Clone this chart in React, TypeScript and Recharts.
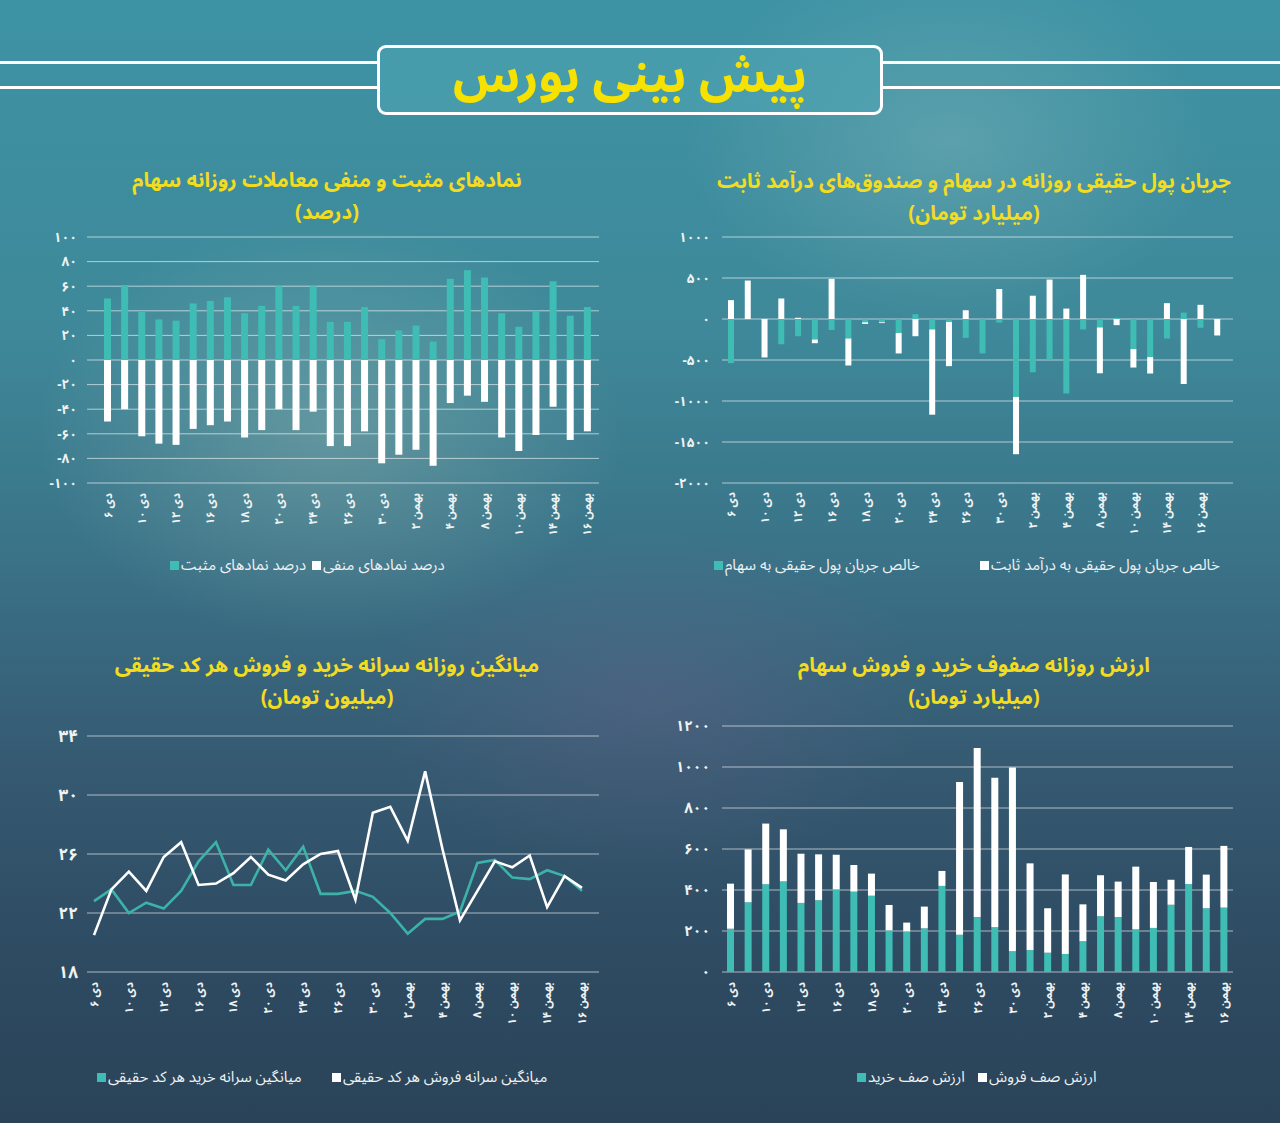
import React from 'react';
import { BarChart, Bar, LineChart, Line, XAxis, YAxis, CartesianGrid } from 'recharts';

const FONT = "'Noto Sans Arabic', 'Vazirmatn', 'DejaVu Sans', sans-serif";
const TEAL = '#3fbdb5';
const TEAL_LINE = '#3cb2a9';
const WHITE = '#ffffff';
const GRID = 'rgba(255,255,255,0.6)';
const LABEL = '#eef3f4';
const YELLOW = '#f3dc1e';

// categories (trading days)
const dates = [
  '۶ دی', '۹ دی', '۱۰ دی', '۱۱ دی', '۱۲ دی', '۱۳ دی', '۱۶ دی', '۱۷ دی', '۱۸ دی', '۱۹ دی',
  '۲۰ دی', '۲۳ دی', '۲۴ دی', '۲۵ دی', '۲۶ دی', '۲۷ دی', '۳۰ دی', '۱ بهمن', '۲ بهمن', '۳ بهمن',
  '۴ بهمن', '۷ بهمن', '۸ بهمن', '۹ بهمن', '۱۰ بهمن', '۱۱ بهمن', '۱۴ بهمن', '۱۵ بهمن', '۱۶ بهمن',
];
const flowDates = [...dates, '۱۷ بهمن'];

// chart 1: percent of positive / negative symbols
const positivePct = [50, 61, 39, 33, 32, 46, 48, 51, 38, 44, 60, 44, 60, 31, 31, 43, 17, 24, 28, 15, 66, 73, 67, 38, 27, 40, 64, 36, 43];
const negativePct = [-50, -40, -62, -68, -69, -56, -53, -50, -63, -57, -40, -57, -42, -70, -70, -58, -84, -77, -73, -86, -35, -29, -34, -63, -74, -61, -38, -65, -58];
const pctTicks = [-100, -80, -60, -40, -20, 0, 20, 40, 60, 80, 100];

// chart 2: net real money flow (billion toman)
const flowStock = [-538, 0, 0, -308, -210, -250, -135, -238, -40, -40, -170, 58, -127, -37, -230, -420, -45, -950, -650, -497, -908, -127, -103, 15, -366, -464, -238, 78, -107, 0];
const flowFixed = [230, 469, -469, 250, 15, -45, 489, -329, -20, -10, -250, -210, -1040, -538, 107, 0, 366, -699, 284, 481, 127, 538, -559, -75, -226, -201, 193, -793, 173, -201];
const flowTicks = [-2000, -1500, -1000, -500, 0, 500, 1000];

// chart 3: per-capita buy / sell (million toman)
const buyAvg = [22.8, 23.6, 22.0, 22.7, 22.3, 23.5, 25.5, 26.8, 23.9, 23.9, 26.3, 24.9, 26.5, 23.3, 23.3, 23.5, 23.1, 22.0, 20.6, 21.6, 21.6, 22.1, 25.4, 25.6, 24.4, 24.3, 24.9, 24.5, 23.5];
const sellAvg = [20.5, 23.6, 24.8, 23.5, 25.8, 26.8, 23.9, 24.0, 24.7, 25.8, 24.6, 24.2, 25.3, 26.0, 26.2, 22.9, 28.8, 29.2, 26.9, 31.6, 26.3, 21.5, 23.5, 25.5, 25.1, 25.9, 22.4, 24.5, 23.7];
const avgTicks = [18, 22, 26, 30, 34];

// chart 4: buy / sell queue value (billion toman)
const buyQueue = [211, 340, 428, 442, 337, 350, 403, 392, 372, 203, 198, 213, 420, 182, 268, 218, 101, 107, 94, 88, 150, 272, 268, 208, 215, 328, 429, 311, 314];
const sellQueue = [220, 258, 296, 254, 240, 224, 169, 130, 108, 124, 43, 106, 73, 745, 825, 730, 897, 423, 217, 388, 180, 200, 173, 306, 224, 122, 181, 164, 301];
const queueTicks = [0, 200, 400, 600, 800, 1000, 1200];

const symbolsData = dates.map((d, i) => ({ date: d, pos: positivePct[i], neg: negativePct[i] }));
const flowData = flowDates.map((d, i) => ({ date: d, stock: flowStock[i], fixed: flowFixed[i] }));
const avgData = dates.map((d, i) => ({ date: d, buy: buyAvg[i], sell: sellAvg[i] }));
const queueData = dates.map((d, i) => ({ date: d, buy: buyQueue[i], sell: sellQueue[i] }));

const fa = (v: any) => String(v).replace(/\d/g, (d) => '۰۱۲۳۴۵۶۷۸۹'[+d]);

const XTick = (props: any) => {
  const { x, y, payload } = props;
  return (
    <g transform={`translate(${x},${y})`}>
      <text transform="rotate(-90)" textAnchor="end" dominantBaseline="central" fill={LABEL} fontSize={11.5} fontFamily={FONT} fontWeight="bold">
        {payload.value}
      </text>
    </g>
  );
};

const yTick = (size: number) => ({ fill: LABEL, fontSize: size, fontWeight: 'bold', fontFamily: FONT });

const TitleLine = ({ cx, cy, text }: { cx: number; cy: number; text: string }) => (
  <div style={{ position: 'absolute', left: cx - 320, width: 640, top: cy - 12, height: 24, textAlign: 'center', direction: 'rtl', color: YELLOW, fontFamily: FONT, fontWeight: 'bold', fontSize: 20.5, lineHeight: '24px', whiteSpace: 'nowrap' }}>
    {text}
  </div>
);

const LegendItem = ({ left, top, color, text }: { left: number; top: number; color: string; text: string }) => (
  <div style={{ position: 'absolute', left, top, height: 18, display: 'flex', alignItems: 'center', fontFamily: FONT, fontSize: 15, color: '#eef2f3', whiteSpace: 'nowrap' }}>
    <span style={{ display: 'inline-block', width: 9, height: 9, background: color, marginRight: 2 }} />
    <span style={{ direction: 'rtl' }}>{text}</span>
  </div>
);

export default function App() {
  return (
    <div
      style={{
        position: 'absolute', left: 0, top: 0, width: 1280, height: 1123, overflow: 'hidden',
        background:
          'radial-gradient(ellipse 420px 300px at 330px 430px, rgba(170,195,185,0.35), rgba(170,195,185,0) 70%),' +
          'radial-gradient(ellipse 380px 260px at 950px 140px, rgba(170,205,205,0.28), rgba(170,205,205,0) 70%),' +
          'radial-gradient(ellipse 400px 250px at 650px 700px, rgba(110,100,140,0.35), rgba(110,100,140,0) 70%),' +
          'linear-gradient(180deg, #3d93a4 0%, #3e8899 30%, #3a7287 50%, #355a72 68%, #2e4b62 85%, #2a4358 100%)',
      }}
    >
      {/* header */}
      <div style={{ position: 'absolute', left: 0, width: 379, top: 61, height: 3, background: '#fff' }} />
      <div style={{ position: 'absolute', left: 0, width: 379, top: 86, height: 3, background: '#fff' }} />
      <div style={{ position: 'absolute', left: 881, width: 399, top: 61, height: 3, background: '#fff' }} />
      <div style={{ position: 'absolute', left: 881, width: 399, top: 86, height: 3, background: '#fff' }} />
      <div style={{ position: 'absolute', left: 377, top: 45, width: 500, height: 64, border: '3px solid #fff', borderRadius: 9, background: 'rgba(80,165,180,0.55)', display: 'flex', alignItems: 'center', justifyContent: 'center' }}>
        <span style={{ direction: 'rtl', color: '#f7e100', fontFamily: FONT, fontWeight: 'bold', fontSize: 49, lineHeight: '62px', marginTop: -6 }}>پیش بینی بورس</span>
      </div>

      <TitleLine cx={327} cy={181} text="نمادهای مثبت و منفی معاملات روزانه سهام" />
      <TitleLine cx={327} cy={213} text="(درصد)" />
      <TitleLine cx={974} cy={182} text="جریان پول حقیقی روزانه در سهام و صندوق‌های درآمد ثابت" />
      <TitleLine cx={974} cy={214} text="(میلیارد تومان)" />
      <TitleLine cx={327} cy={666} text="میانگین روزانه سرانه خرید و فروش هر کد حقیقی" />
      <TitleLine cx={327} cy={698} text="(میلیون تومان)" />
      <TitleLine cx={974} cy={666} text="ارزش روزانه صفوف خرید و فروش سهام" />
      <TitleLine cx={974} cy={698} text="(میلیارد تومان)" />

      {/* chart 1 */}
      <div style={{ position: 'absolute', left: 30, top: 215 }}>
        <BarChart width={580} height={330} data={symbolsData} stackOffset="sign" margin={{ top: 22, right: 11, left: 0, bottom: 7 }} barSize={7}>
          <CartesianGrid vertical={false} stroke={GRID} />
          <XAxis dataKey="date" interval={1} tickLine={false} axisLine={false} tick={<XTick />} height={55} padding={{ left: 12, right: 3 }} tickSize={6} tickMargin={4} />
          <YAxis domain={[-100, 100]} ticks={pctTicks} width={57} tickLine={false} axisLine={false} tick={yTick(13.5)} tickFormatter={fa} tickSize={6} tickMargin={4} />
          <Bar dataKey="pos" stackId="s" fill={TEAL} isAnimationActive={false} />
          <Bar dataKey="neg" stackId="s" fill={WHITE} isAnimationActive={false} />
        </BarChart>
      </div>
      <LegendItem left={170} top={556} color={TEAL} text="درصد نمادهای مثبت" />
      <LegendItem left={312} top={556} color={WHITE} text="درصد نمادهای منفی" />

      {/* chart 2 */}
      <div style={{ position: 'absolute', left: 665, top: 215 }}>
        <BarChart width={580} height={330} data={flowData} stackOffset="sign" margin={{ top: 22, right: 12, left: 0, bottom: 7 }} barSize={6}>
          <CartesianGrid vertical={false} stroke={GRID} />
          <XAxis dataKey="date" interval={1} tickLine={false} axisLine={false} tick={<XTick />} height={55} padding={{ left: 1, right: 7 }} tickSize={6} tickMargin={3} />
          <YAxis domain={[-2000, 1000]} ticks={flowTicks} width={57} tickLine={false} axisLine={false} tick={yTick(13.5)} tickFormatter={fa} tickSize={6} tickMargin={6} />
          <Bar dataKey="stock" stackId="s" fill={TEAL} isAnimationActive={false} />
          <Bar dataKey="fixed" stackId="s" fill={WHITE} isAnimationActive={false} />
        </BarChart>
      </div>
      <LegendItem left={714} top={556} color={TEAL} text="خالص جریان پول حقیقی به سهام" />
      <LegendItem left={980} top={556} color={WHITE} text="خالص جریان پول حقیقی به درآمد ثابت" />

      {/* chart 3 */}
      <div style={{ position: 'absolute', left: 30, top: 710 }}>
        <LineChart width={580} height={330} data={avgData} margin={{ top: 26, right: 11, left: 0, bottom: 13 }}>
          <CartesianGrid vertical={false} stroke={GRID} />
          <XAxis dataKey="date" scale="point" interval={1} tickLine={false} axisLine={false} tick={<XTick />} height={55} padding={{ left: 7, right: 17 }} tickSize={6} tickMargin={4} />
          <YAxis domain={[18, 34]} ticks={avgTicks} width={57} tickLine={false} axisLine={false} tick={yTick(17)} tickFormatter={fa} tickSize={6} tickMargin={3} />
          <Line dataKey="buy" stroke={TEAL_LINE} strokeWidth={2.6} dot={false} isAnimationActive={false} />
          <Line dataKey="sell" stroke={WHITE} strokeWidth={2.6} dot={false} isAnimationActive={false} />
        </LineChart>
      </div>
      <LegendItem left={97} top={1068} color={TEAL} text="میانگین سرانه خرید هر کد حقیقی" />
      <LegendItem left={332} top={1068} color={WHITE} text="میانگین سرانه فروش هر کد حقیقی" />

      {/* chart 4 */}
      <div style={{ position: 'absolute', left: 665, top: 700 }}>
        <BarChart width={580} height={340} data={queueData} margin={{ top: 26, right: 12, left: 0, bottom: 13 }} barSize={7}>
          <CartesianGrid vertical={false} stroke={GRID} />
          <XAxis dataKey="date" interval={1} tickLine={false} axisLine={false} tick={<XTick />} height={55} tickSize={6} tickMargin={4} />
          <YAxis domain={[0, 1200]} ticks={queueTicks} width={57} tickLine={false} axisLine={false} tick={yTick(15)} tickFormatter={fa} tickSize={6} tickMargin={6} />
          <Bar dataKey="buy" stackId="s" fill={TEAL} isAnimationActive={false} />
          <Bar dataKey="sell" stackId="s" fill={WHITE} isAnimationActive={false} />
        </BarChart>
      </div>
      <LegendItem left={857} top={1068} color={TEAL} text="ارزش صف خرید" />
      <LegendItem left={978} top={1068} color={WHITE} text="ارزش صف فروش" />
    </div>
  );
}
